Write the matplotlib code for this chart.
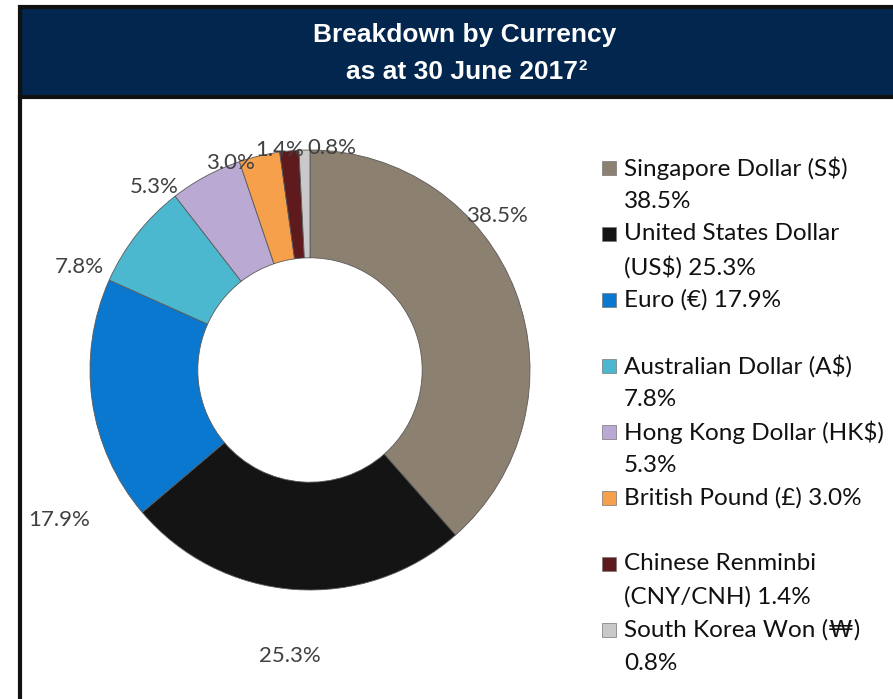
import matplotlib
matplotlib.use("Agg")
import matplotlib.pyplot as plt
from matplotlib.patches import Rectangle
from matplotlib.lines import Line2D

# datos del grafico
monedas = ["Singapore Dollar (S$)", "United States Dollar (US$)", "Euro (€)",
           "Australian Dollar (A$)", "Hong Kong Dollar (HK$)", "British Pound (£)",
           "Chinese Renminbi (CNY/CNH)", "South Korea Won (₩)"]
porcentajes = [38.5, 25.3, 17.9, 7.8, 5.3, 3.0, 1.4, 0.8]
colores = ["#8C8070", "#141414", "#0A78CF", "#4CB8D0", "#B9A9D3", "#F7A04B", "#5E1A1C", "#C9C9C9"]

# texto de la leyenda tal como aparece partido en lineas
leyenda = ["Singapore Dollar (S$)\n38.5%", "United States Dollar\n(US$) 25.3%", "Euro (€) 17.9%",
           "Australian Dollar (A$)\n7.8%", "Hong Kong Dollar (HK$)\n5.3%", "British Pound (£) 3.0%",
           "Chinese Renminbi\n(CNY/CNH) 1.4%", "South Korea Won (₩)\n0.8%"]

# posicion de las etiquetas (en unidades del radio)
pos_etiquetas = [(0.85, 0.70), (-0.09, -1.30), (-1.14, -0.68), (-1.05, 0.47),
                 (-0.71, 0.83), (-0.36, 0.94), (-0.14, 1.00), (0.10, 1.01)]

W, H = 893, 699
fig = plt.figure(figsize=(W/100, H/100), dpi=100)
fig.patch.set_facecolor("white")

fuente = "Lato"

# ejes del donut: centro (310, 370) px, radio 220 px
cx, cy, R = 310, 370, 220
half = 310
ax = fig.add_axes([(cx-half)/W, (H-cy-half)/H, 2*half/W, 2*half/H])

wedges, _ = ax.pie(porcentajes, colors=colores, startangle=90, counterclock=False,
                   radius=1.0, wedgeprops=dict(width=0.49, edgecolor="#5a5a5a", linewidth=0.6))
ax.set_xlim(-half/R, half/R)
ax.set_ylim(-half/R, half/R)
ax.axis("off")

for (x, y), p in zip(pos_etiquetas, porcentajes):
    ax.text(x, y, "%.1f%%" % p, ha="center", va="center", fontsize=16,
            color="#404040", family=fuente)

# leyenda manual
y0 = 168
paso = 33
fila = 0
for i, (txt, c) in enumerate(zip(leyenda, colores)):
    lineas = txt.split("\n")
    ytop = y0 + fila*paso
    fig.patches.append(Rectangle((602/W, 1-(ytop+7)/H), 14/W, 14/H, transform=fig.transFigure,
                                 facecolor=c, edgecolor="#777777", linewidth=0.5, zorder=3))
    for k, l in enumerate(lineas):
        fig.text(624/W, 1-(ytop + k*paso)/H, l, ha="left", va="center", fontsize=17.5,
                 color="#111111", family=fuente)
    fila += len(lineas)
    if i in (2, 5):
        fila += 1

# cabecera
fig.patches.append(Rectangle((20/W, 1-97/H), (W-20)/W + 0.01, 90/H, transform=fig.transFigure,
                             facecolor="#02264D", edgecolor="#111111", linewidth=3, zorder=5))
fig.lines.append(Line2D([20/W, 20/W], [0, 1-97/H], transform=fig.transFigure,
                        color="#111111", linewidth=3, zorder=5))

fig.text(465/W, 1-35/H, "Breakdown by Currency", ha="center", va="center", fontsize=19,
         color="white", weight="bold", family="Liberation Sans", zorder=6)
t2 = fig.text(462/W, 1-72/H, "as at 30 June 2017", ha="center", va="center", fontsize=19,
              color="white", weight="bold", family="Liberation Sans", zorder=6)
fig.canvas.draw()
bb = t2.get_window_extent()
fig.text((bb.x1 + 1)/W, (bb.y1 - 13)/H, "2", fontsize=11, color="white", weight="bold",
         family="Liberation Sans", va="bottom", ha="left", zorder=6)

fig.savefig("out.png", dpi=100)
